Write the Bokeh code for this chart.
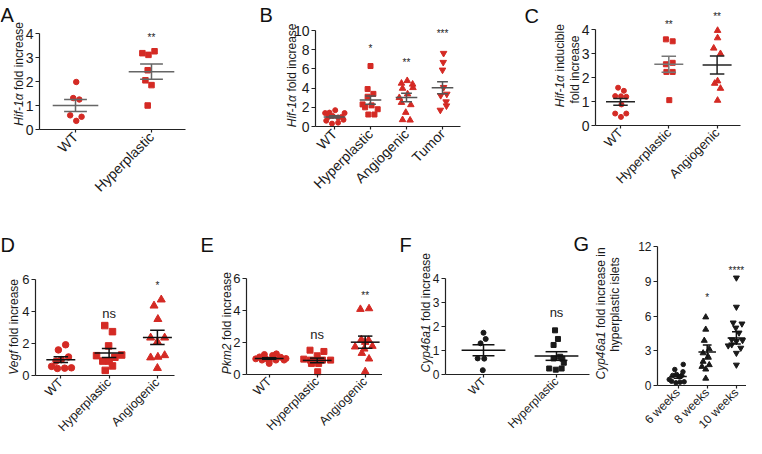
import math
from bokeh.plotting import figure
from bokeh.models import FixedTicker, Label, ColumnDataSource
from bokeh.layouts import row, column
from bokeh.embed import file_html
from bokeh.resources import INLINE
from bokeh.core.properties import value

FONT = "Liberation Sans"
RED = "#d42a24"
DARK = "#1a1a1a"

# ---------------- Panel A : Hif-1a ----------------
A_cats = ["WT", "Hyperplastic"]
A_wt = [1.98, 1.31, 1.25, 0.59, 0.53, 0.36]
A_wt_dx = [0.01, -0.03, 0.05, -0.07, 0.08, 0.01]
A_hyp = [3.18, 3.11, 3.26, 2.47, 2.05, 1.85, 1.00]
A_hyp_dx = [-0.12, -0.04, 0.04, -0.05, -0.08, 0.0, -0.05]
A_mean = [1.00, 2.41]
A_sem = [0.25, 0.32]
A_sig = ["", "**"]
A_sig_y = [0.0, 3.83]
A_yticks = [0, 1, 2, 3, 4]

# ---------------- Panel B : Hif-1a by stage ----------------
B_cats = ["WT", "Hyperplastic", "Angiogenic", "Tumor"]
B_wt = [1.40, 1.45, 1.70, 1.40, 1.10, 1.00, 0.95, 1.00, 0.60, 0.30, 0.40, 0.70]
B_wt_dx = [-0.26, -0.14, 0.02, 0.28, -0.05, -0.17, 0.10, 0.20, -0.23, -0.07, 0.10, 0.25]
B_hyp = [6.30, 3.90, 3.40, 3.10, 2.20, 2.00, 1.80, 1.25, 1.25, 2.30]
B_hyp_dx = [0.0, -0.08, 0.08, -0.08, 0.03, -0.15, 0.20, -0.06, 0.11, -0.22]
B_ang = [4.50, 4.77, 4.40, 3.97, 4.04, 3.38, 2.50, 2.26, 1.46, 0.70, 0.66, 3.00]
B_ang_dx = [-0.14, 0.02, 0.17, -0.11, 0.18, 0.03, -0.14, 0.12, -0.02, -0.11, 0.10, -0.20]
B_tum = [7.63, 6.69, 5.89, 4.08, 3.24, 3.38, 2.58, 2.16, 1.71]
B_tum_dx = [0.03, 0.02, 0.0, 0.03, -0.05, 0.12, 0.10, 0.11, -0.06]
B_mean = [1.00, 2.75, 3.03, 4.04]
B_sem = [0.12, 0.44, 0.44, 0.63]
B_sig = ["", "*", "**", "***"]
B_sig_y = [0.0, 8.1, 6.7, 9.65]
B_yticks = [0, 2, 4, 6, 8, 10]

# ---------------- Panel C : Hif-1a inducible ----------------
C_cats = ["WT", "Hyperplastic", "Angiogenic"]
C_wt = [1.58, 1.45, 1.23, 1.20, 1.22, 0.88, 0.50, 0.50, 0.36]
C_wt_dx = [-0.05, 0.07, -0.11, 0.12, 0.01, 0.02, -0.11, 0.12, 0.01]
C_hyp = [3.60, 3.52, 2.62, 2.56, 2.24, 2.24, 1.06]
C_hyp_dx = [-0.06, 0.08, 0.08, -0.06, -0.05, 0.08, 0.01]
C_ang = [3.97, 3.66, 3.23, 3.00, 1.86, 1.76, 1.55, 1.05]
C_ang_dx = [0.01, 0.01, -0.07, 0.07, 0.01, -0.05, 0.07, 0.01]
C_mean = [0.99, 2.56, 2.53]
C_sem = [0.14, 0.33, 0.38]
C_sig = ["", "**", "**"]
C_sig_y = [0.0, 4.21, 4.55]
C_yticks = [0, 1, 2, 3, 4]

# ---------------- Panel D : Vegf ----------------
D_cats = ["WT", "Hyperplastic", "Angiogenic"]
D_wt = [1.92, 1.60, 1.16, 0.99, 0.90, 0.57, 0.44, 0.46, 0.48]
D_wt_dx = [0.10, -0.05, 0.16, 0.01, -0.10, -0.19, -0.07, 0.08, 0.22]
D_hyp = [3.12, 2.74, 1.85, 1.24, 1.28, 0.90, 0.90, 1.14, 0.60, 0.32]
D_hyp_dx = [-0.09, 0.07, -0.01, -0.26, 0.26, -0.13, 0.0, 0.12, 0.07, -0.08]
D_ang = [4.74, 4.36, 3.52, 2.36, 2.10, 2.36, 1.12, 1.16, 1.26, 0.46]
D_ang_dx = [0.08, -0.07, 0.01, -0.14, 0.0, 0.15, -0.14, 0.01, 0.15, 0.0]
D_mean = [0.99, 1.41, 2.38]
D_sem = [0.18, 0.28, 0.45]
D_sig = ["", "ns", "*"]
D_sig_y = [0.0, 3.9, 5.6]
D_yticks = [0, 2, 4, 6]

# ---------------- Panel E : Pkm2 ----------------
E_cats = ["WT", "Hyperplastic", "Angiogenic"]
E_wt = [0.98, 1.10, 1.25, 0.83, 0.69, 1.19, 1.29, 1.08, 0.90, 0.90, 0.98, 0.90, 1.00]
E_wt_dx = [-0.28, -0.20, -0.10, 0.0, 0.0, 0.07, 0.15, 0.24, 0.31, -0.15, -0.07, 0.14, 0.35]
E_hyp = [1.52, 1.44, 1.17, 0.96, 0.90, 0.88, 0.90, 0.90, 0.69, 0.69, 0.17]
E_hyp_dx = [-0.15, 0.14, 0.0, -0.28, -0.14, -0.01, 0.11, 0.28, -0.12, 0.03, 0.01]
E_ang = [4.08, 4.12, 2.19, 2.15, 2.02, 1.73, 1.77, 1.33, 0.98, 0.19, 1.60]
E_ang_dx = [-0.10, 0.08, -0.08, 0.07, 0.0, -0.21, 0.15, -0.07, 0.08, 0.0, -0.02]
E_mean = [1.00, 0.88, 2.02]
E_sem = [0.05, 0.145, 0.38]
E_sig = ["", "ns", "**"]
E_sig_y = [0.0, 2.48, 4.94]
E_yticks = [0, 2, 4, 6]

# ---------------- Panel F : Cyp46a1 ----------------
F_cats = ["WT", "Hyperplastic"]
F_wt = [1.74, 1.30, 1.48, 0.67, 0.66, 0.18]
F_wt_dx = [0.0, -0.04, 0.03, -0.08, 0.01, -0.01]
F_hyp = [1.84, 1.48, 1.23, 0.74, 0.67, 0.66, 0.25, 0.20, 0.25, 0.49]
F_hyp_dx = [-0.02, 0.02, -0.04, 0.05, -0.04, 0.08, -0.10, -0.01, 0.07, 0.10]
F_mean = [1.01, 0.77]
F_sem = [0.23, 0.18]
F_sig = ["", "ns"]
F_sig_y = [0.0, 2.58]
F_yticks = [0, 1, 2, 3, 4]

# ---------------- Panel G : Cyp46a1 in hyperplastic islets ----------------
G_cats = ["6 weeks", "8 weeks", "10 weeks"]
G_6w = [1.82, 1.38, 1.18, 0.95, 0.87, 0.87, 0.75, 0.37, 0.23, 0.29, 0.32, 0.52]
G_6w_dx = [0.18, -0.11, 0.17, -0.05, 0.13, -0.18, 0.04, -0.22, -0.07, 0.07, 0.21, -0.30]
G_8w = [5.90, 4.84, 3.88, 3.15, 2.80, 2.50, 2.07, 1.78, 1.63, 1.40, 0.61]
G_8w_dx = [-0.05, -0.05, -0.10, 0.07, -0.14, 0.03, -0.14, 0.07, -0.18, -0.05, -0.05]
G_10w = [9.30, 6.78, 5.42, 5.33, 4.98, 4.55, 3.96, 3.90, 3.82, 3.53, 3.44, 3.24, 2.80, 1.78]
G_10w_dx = [0.0, 0.0, -0.11, 0.19, -0.02, 0.09, -0.16, 0.21, 0.0, -0.16, -0.28, 0.15, 0.0, 0.0]
G_mean = [0.78, 2.89, 4.11]
G_sem = [0.15, 0.60, 0.53]
G_sig = ["", "*", "****"]
G_sig_y = [0.0, 7.6, 9.9]
G_yticks = [0, 3, 6, 9, 12]


def build(box, axes, cat_px, cats, groups, dxs, markers, msize, pcolor,
          means, sems, mcolors, yticks, ytop_px, sig, sig_y, yfs, xfs,
          ylabels, letters):
    # box: figure box in page pixels; axes: (y-axis x, x-axis end x, x-axis y)
    x0, y0, x1, y1 = box
    l, r, b = axes
    c1, s = cat_px
    k = (b - ytop_px) / yticks[-1]

    def tox(px):
        return 1 + (px - c1) / s

    p = figure(width=x1 - x0, height=y1 - y0,
               x_range=(tox(x0), tox(x1)), y_range=((b - y1) / k, (b - y0) / k),
               output_backend="svg", toolbar_location=None, tools="", title=None,
               min_border=0, min_border_left=0, min_border_right=0,
               min_border_top=0, min_border_bottom=0)
    p.outline_line_color = None
    p.xgrid.visible = False
    p.ygrid.visible = False
    p.background_fill_color = "white"
    p.border_fill_color = "white"

    n = len(cats)
    xa = p.xaxis[0]
    xa.fixed_location = 0
    xa.bounds = (tox(l), tox(r))
    xa.ticker = FixedTicker(ticks=list(range(1, n + 1)))
    xa.major_label_overrides = {i + 1: c for i, c in enumerate(cats)}
    xa.major_label_orientation = math.pi / 4
    ya = p.yaxis[0]
    ya.fixed_location = tox(l)
    ya.ticker = FixedTicker(ticks=yticks)
    ya.bounds = (0, yticks[-1])
    for ax in (xa, ya):
        ax.axis_line_color = "#222222"
        ax.axis_line_width = 1.2
        ax.major_tick_line_color = "#222222"
        ax.major_tick_line_width = 1.2
        ax.major_tick_in = 0
        ax.minor_tick_line_color = None
        ax.major_label_text_font = FONT
        ax.major_label_text_color = "#1a1a1a"
    xa.major_label_text_font_size = xfs
    ya.major_label_text_font_size = yfs
    xa.major_tick_out = 3
    xa.major_label_standoff = 2
    ya.major_tick_out = 4
    ya.major_label_standoff = 2

    for i, (vals, dx) in enumerate(zip(groups, dxs)):
        cx = i + 1
        sz = msize + (1.5 if "triangle" in markers[i] else 0)
        p.scatter(x=[cx + d for d in dx], y=vals, marker=markers[i], size=sz,
                  fill_color=pcolor, line_color=pcolor)
        mc = mcolors[i]
        m, e = means[i], sems[i]
        p.segment(x0=[cx - 0.3], x1=[cx + 0.3], y0=[m], y1=[m], line_color=mc, line_width=1.5)
        p.segment(x0=[cx], x1=[cx], y0=[m - e], y1=[m + e], line_color=mc, line_width=1.5)
        p.segment(x0=[cx - 0.15, cx - 0.15], x1=[cx + 0.15, cx + 0.15],
                  y0=[m - e, m + e], y1=[m - e, m + e], line_color=mc, line_width=1.5)

    sx, sy, st, sf = [], [], [], []
    for i, (txt, yv) in enumerate(zip(sig, sig_y)):
        if txt:
            sx.append(i + 1)
            sy.append(yv)
            st.append(txt)
            sf.append("13px" if txt == "ns" else "10px")
    if st:
        src = ColumnDataSource(dict(x=sx, y=sy, t=st, fs=sf))
        p.text(x="x", y="y", text="t", source=src, text_font_size="fs",
               text_align="center", text_baseline="middle", text_color="#222222",
               text_font=value(FONT))

    for (ox, oy, txt, style, align, fs) in ylabels:
        p.add_layout(Label(x=ox - x0, y=y1 - oy, x_units="screen", y_units="screen",
                           text=txt, angle=math.pi / 2, text_align=align,
                           text_baseline="middle", text_font=FONT,
                           text_font_style=style, text_font_size=fs,
                           text_color="#1a1a1a"))
    for (txt, ox, oy) in letters:
        p.add_layout(Label(x=ox - x0, y=y1 - oy, x_units="screen", y_units="screen",
                           text=txt, text_align="left", text_baseline="alphabetic",
                           text_font=FONT, text_font_size="20px", text_color="#111111"))
    return p


pA = build((8, 8, 240, 230), (47, 193, 137), (83, 76), A_cats,
           [A_wt, A_hyp], [A_wt_dx, A_hyp_dx], ["circle", "square"], 5.5, RED,
           A_mean, A_sem, ["#666666", "#666666"], A_yticks, 41, A_sig, A_sig_y, "14px", "14px",
           [(26, 101, "Hif-1α", "italic", "right", "12px"),
            (26, 97.5, "fold increase", "normal", "left", "12px")],
           [("A", 8, 22)])

pB = build((240, 8, 510, 230), (323, 468, 134), (342, 36), B_cats,
           [B_wt, B_hyp, B_ang, B_tum], [B_wt_dx, B_hyp_dx, B_ang_dx, B_tum_dx],
           ["circle", "square", "triangle", "inverted_triangle"], 5, RED,
           B_mean, B_sem, ["#555555"] * 4, B_yticks, 38, B_sig, B_sig_y, "14px", "14px",
           [(299, 102.6, "Hif-1α", "italic", "right", "12px"),
            (299, 99, "fold increase", "normal", "left", "12px")],
           [("B", 267, 22)])

pC = build((510, 8, 754, 230), (603, 748, 133), (628, 48.3), C_cats,
           [C_wt, C_hyp, C_ang], [C_wt_dx, C_hyp_dx, C_ang_dx],
           ["circle", "square", "triangle"], 5, RED,
           C_mean, C_sem, ["#222222", "#777777", "#222222"], C_yticks, 37.3, C_sig, C_sig_y, "14px", "13px",
           [(567, 82.6, "Hif-1α", "italic", "right", "12px"),
            (567, 79, "inducible", "normal", "left", "12px"),
            (582, 77, "fold increase", "normal", "center", "12px")],
           [("C", 532, 23)])

pD = build((8, 230, 195, 446), (43, 182, 383), (68.3, 48.3), D_cats,
           [D_wt, D_hyp, D_ang], [D_wt_dx, D_hyp_dx, D_ang_dx],
           ["circle", "square", "triangle"], 6.5, RED,
           D_mean, D_sem, ["#111111"] * 3, D_yticks, 287, D_sig, D_sig_y, "13px", "12.5px",
           [(21, 358, "Vegf", "italic", "right", "12px"),
            (21, 354.5, "fold increase", "normal", "left", "12px")],
           [("D", 8, 252)])

pE = build((195, 230, 390, 446), (254, 392, 382), (276.7, 48), E_cats,
           [E_wt, E_hyp, E_ang], [E_wt_dx, E_hyp_dx, E_ang_dx],
           ["circle", "square", "triangle"], 6, RED,
           E_mean, E_sem, ["#111111"] * 3, E_yticks, 286, E_sig, E_sig_y, "13px", "12.5px",
           [(234, 351, "Pkm2", "italic", "right", "12px"),
            (234, 347.5, "fold increase", "normal", "left", "12px")],
           [("E", 208, 252)])

pF = build((390, 230, 598, 446), (453, 597, 382), (491, 73), F_cats,
           [F_wt, F_hyp], [F_wt_dx, F_hyp_dx], ["circle", "square"], 5, DARK,
           F_mean, F_sem, ["#111111"] * 2, F_yticks, 286, F_sig, F_sig_y, "12px", "12px",
           [(433, 332, "Cyp46a1", "italic", "right", "12px"),
            (433, 328.5, "fold increase", "normal", "left", "12px")],
           [("F", 407, 252), ("G", 581, 251)])

pG = build((598, 230, 754, 446), (665, 756, 393), (685.5, 29.2), G_cats,
           [G_6w, G_8w, G_10w], [G_6w_dx, G_8w_dx, G_10w_dx],
           ["circle", "triangle", "inverted_triangle"], 4.5, DARK,
           G_mean, G_sem, ["#111111"] * 3, G_yticks, 254, G_sig, G_sig_y, "12px", "12px",
           [(608, 339, "Cyp46a1", "italic", "right", "12px"),
            (608, 335.5, "fold increase in", "normal", "left", "12px"),
            (622, 312, "hyperplastic islets", "normal", "center", "12px")],
           [])

layout = column(row(pA, pB, pC), row(pD, pE, pF, pG))
open("out.html", "w").write(file_html(layout, INLINE))
